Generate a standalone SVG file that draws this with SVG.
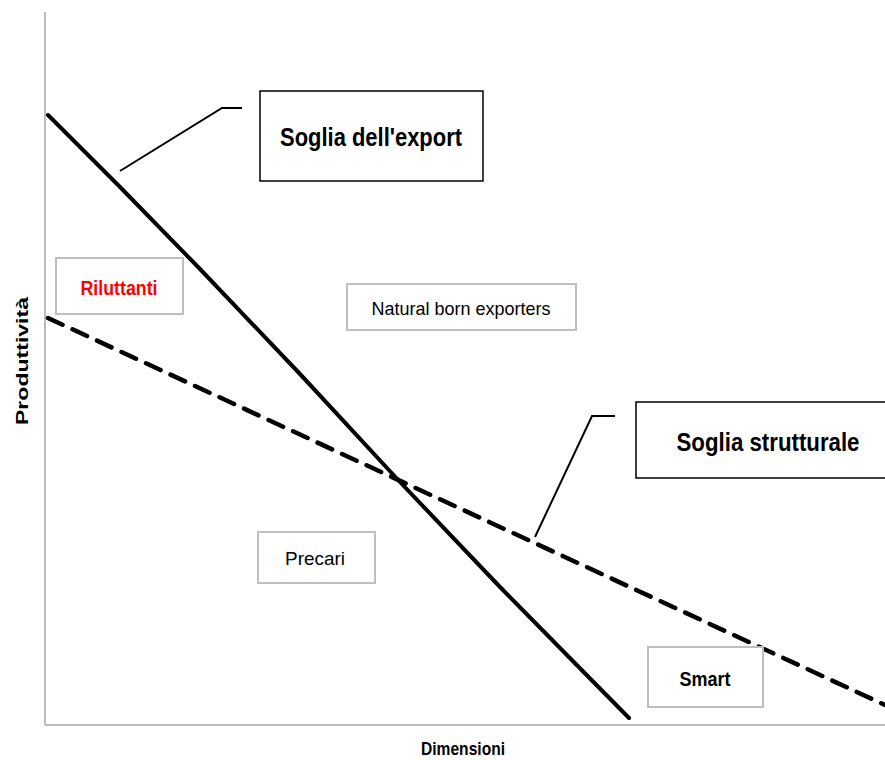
<svg xmlns="http://www.w3.org/2000/svg" width="885" height="760" viewBox="0 0 885 760">
<style>
.axis{stroke:#a6a6a6;stroke-width:1.5;fill:none}
.solid{stroke:#000;stroke-width:4;fill:none;stroke-linecap:round}
.dash{stroke:#000;stroke-width:4.5;fill:none;stroke-dasharray:16 11;stroke-linecap:round}
.leader{stroke:#000;stroke-width:2;fill:none}
.bbox{fill:#fff;stroke:#000;stroke-width:1.5}
.gbox{fill:#fff;stroke:#bfbfbf;stroke-width:2}
text{font-family:"Liberation Sans",Arial,sans-serif;text-anchor:middle;fill:#000}
.big{font-size:26px;font-weight:bold}
.mid{font-size:19px}
.bold{font-size:20px;font-weight:bold}
</style>
<rect width="885" height="760" fill="#fff"/>
<g id="axes">
<line class="axis" x1="45" y1="12" x2="45" y2="725"/>
<line class="axis" x1="45" y1="725" x2="885" y2="725"/>
<text x="463" y="755" class="bold" style="font-size:19px" textLength="84" lengthAdjust="spacingAndGlyphs">Dimensioni</text>
<text transform="translate(28,361) rotate(-90)" class="bold" style="font-size:17px" textLength="128" lengthAdjust="spacingAndGlyphs">Produttività</text>
</g>
<g id="connectors">
<polyline class="solid" points="48,115 120,187 200,269 300,374 400,482 500,587 560,648 629,718"/>
<line class="dash" x1="48" y1="318" x2="885" y2="705"/>
<polyline class="leader" points="120,171 222,108 242,108"/>
<polyline class="leader" points="535,537 592,416 615,416"/>
</g>
<g id="soglia-export">
<rect class="bbox" x="260" y="91" width="223" height="90"/>
<text x="371" y="146" class="big" textLength="182" lengthAdjust="spacingAndGlyphs">Soglia dell'export</text>
</g>
<g id="soglia-strutturale">
<rect class="bbox" x="636" y="402" width="260" height="76"/>
<text x="768" y="451" class="big" textLength="183" lengthAdjust="spacingAndGlyphs">Soglia strutturale</text>
</g>
<g id="riluttanti">
<rect class="gbox" x="56" y="258" width="127" height="56"/>
<text x="119" y="295" class="bold" style="fill:#ff0000" textLength="77" lengthAdjust="spacingAndGlyphs">Riluttanti</text>
</g>
<g id="natural-born">
<rect class="gbox" x="347" y="284" width="229" height="46"/>
<text x="461" y="315" class="mid" textLength="179" lengthAdjust="spacingAndGlyphs">Natural  born exporters</text>
</g>
<g id="precari">
<rect class="gbox" x="258" y="532" width="117" height="51"/>
<text x="315" y="565" class="mid" textLength="60" lengthAdjust="spacingAndGlyphs">Precari</text>
</g>
<g id="smart">
<rect class="gbox" x="648" y="647" width="115" height="60"/>
<text x="705" y="686" class="bold" textLength="51" lengthAdjust="spacingAndGlyphs">Smart</text>
</g>
</svg>
